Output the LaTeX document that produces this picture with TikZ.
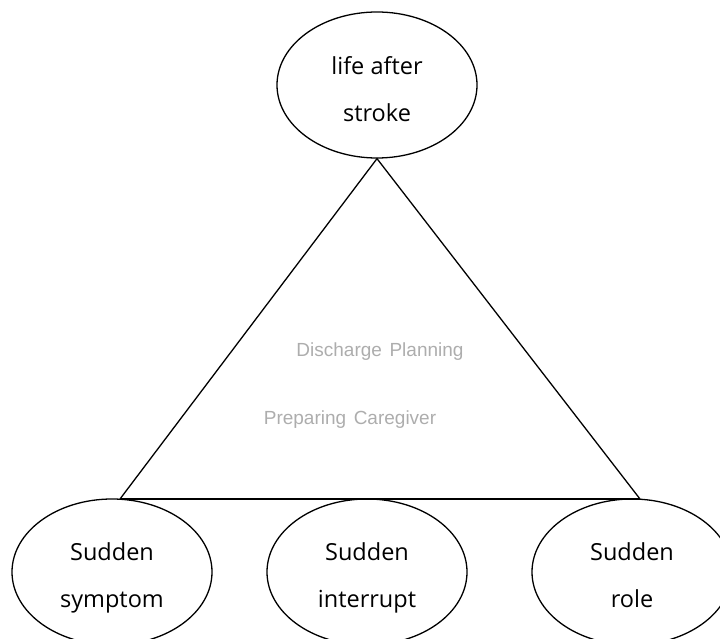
\documentclass[tikz,border=0pt]{standalone}
\usepackage{fontspec}
\setmainfont{Open Sans}
\newfontfamily\grayfont{Liberation Sans}
\usetikzlibrary{shapes.geometric}
\tikzset{
  x=1pt, y=-1pt,
  bubble/.style={draw, line width=1.3pt, ellipse, minimum width=200pt, minimum height=146pt, inner sep=0pt},
  btext/.style={align=center, font=\fontsize{23.5}{47}\selectfont},
  edge/.style={line width=1.3pt},
  faint/.style={text=black!32, font=\grayfont\fontsize{19}{22}\selectfont}
}
\newcommand{\bline}[1]{\vphantom{Sdpy}#1}
\begin{document}
\begin{tikzpicture}
\useasboundingbox (0,0) rectangle (720,639);
\clip (0,0) rectangle (720,639);
\node[bubble] (top) at (377,85) {};
\node[btext] (toptext) at (377,92) {\bline{life after}\\\bline{stroke}};
\node[bubble] (left) at (112,572) {};
\node[btext] (lefttext) at (112,578) {\bline{Sudden}\\\bline{symptom}};
\node[bubble] (mid) at (367,572) {};
\node[btext] (midtext) at (367,578) {\bline{Sudden}\\\bline{interrupt}};
\node[bubble] (right) at (632,572) {};
\node[btext] (righttext) at (632,578) {\bline{Sudden}\\\bline{role}};
\coordinate (lc) at (120,499);
\coordinate (rc) at (640,499);
\draw[edge] (lc) -- (top.south) -- (rc);
\draw[edge] (lc) -- (rc);
\node[faint] (dp) at (380,352) {Discharge\hspace{0.4em}Planning};
\node[faint] (pc) at (350,420) {Preparing\hspace{0.4em}Caregiver};
\end{tikzpicture}
\end{document}
